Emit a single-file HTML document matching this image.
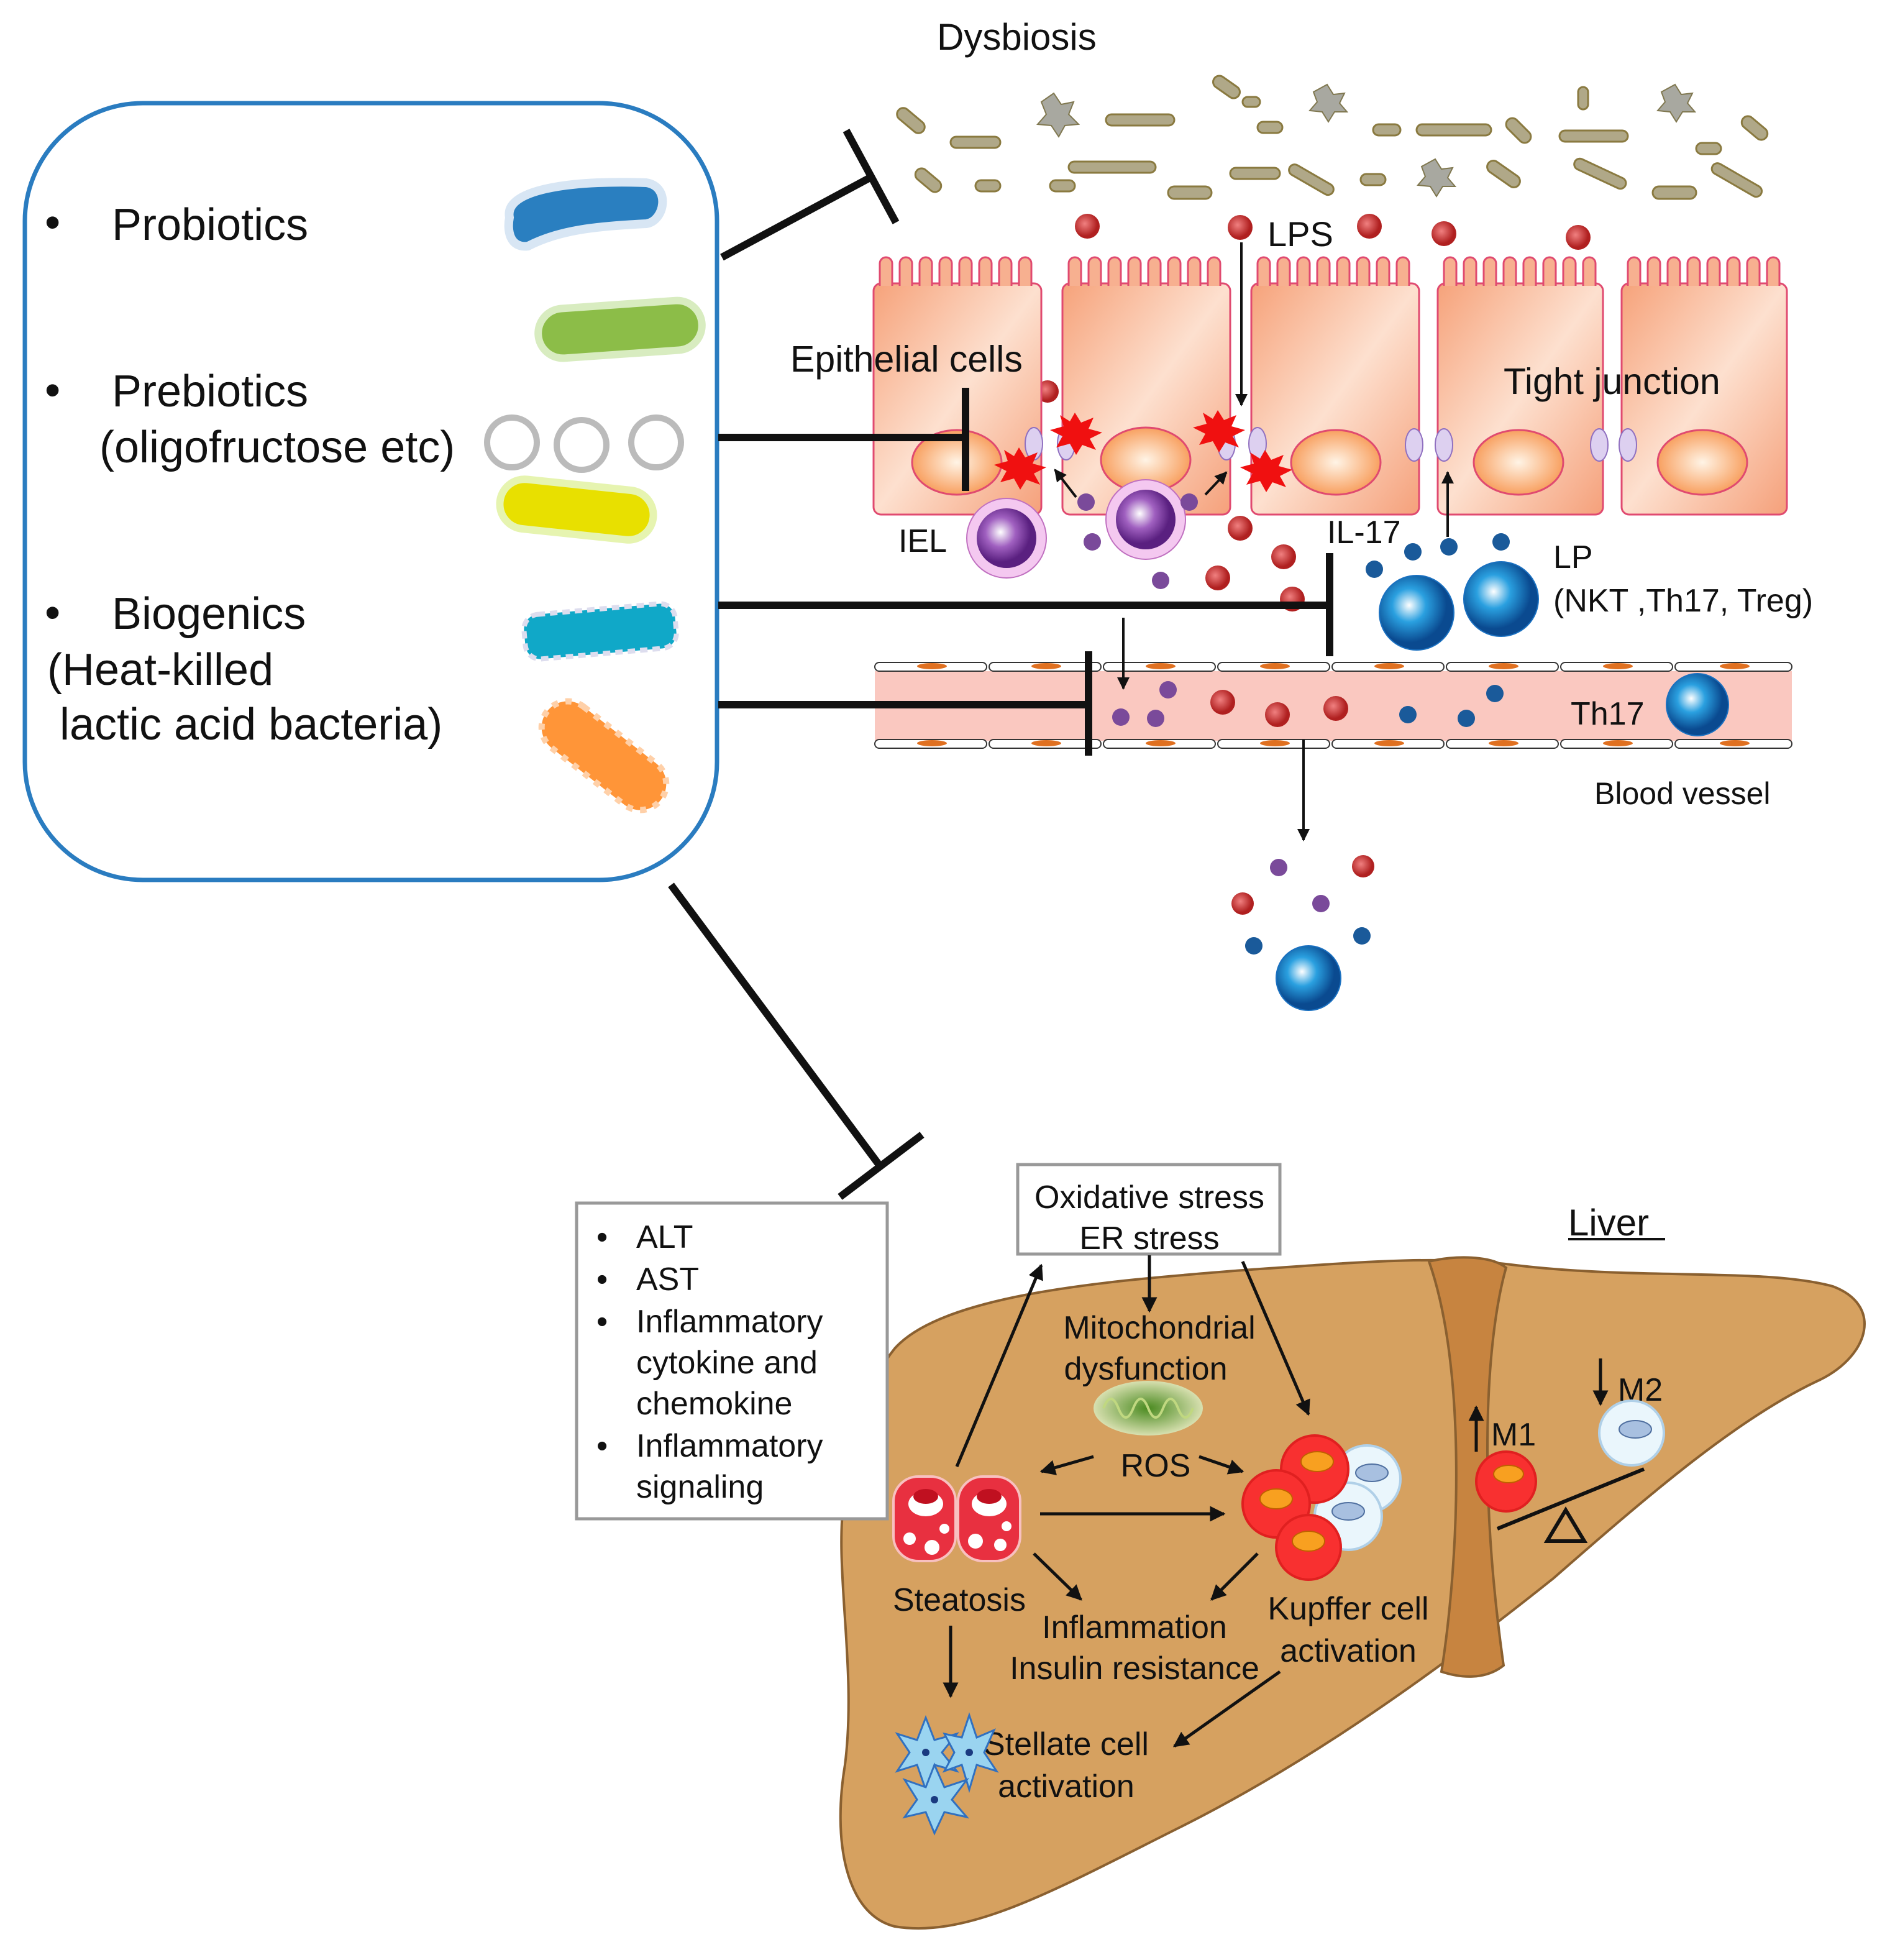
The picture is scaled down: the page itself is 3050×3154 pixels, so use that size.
<!DOCTYPE html>
<html><head><meta charset="utf-8"><style>html,body{margin:0;padding:0;background:#fff}svg{display:block}text{font-family:"Liberation Sans",Arial,sans-serif;fill:#111}</style></head>
<body>
<svg width="3050" height="3154" viewBox="0 0 1525 1577" xmlns="http://www.w3.org/2000/svg">
<defs>
<linearGradient id="epi" x1="0" y1="0" x2="1" y2="1"><stop offset="0" stop-color="#f6a27a"/><stop offset="0.5" stop-color="#fde0cf"/><stop offset="1" stop-color="#f5a07a"/></linearGradient>
<radialGradient id="nuc"><stop offset="0" stop-color="#fff4e6"/><stop offset="1" stop-color="#f8a060"/></radialGradient>
<radialGradient id="pur" cx="0.4" cy="0.4"><stop offset="0" stop-color="#fff"/><stop offset="0.5" stop-color="#a060c0"/><stop offset="1" stop-color="#5a2080"/></radialGradient>
<radialGradient id="blu" cx="0.4" cy="0.4"><stop offset="0" stop-color="#fff"/><stop offset="0.45" stop-color="#2aa0e0"/><stop offset="1" stop-color="#0a4a90"/></radialGradient>
<radialGradient id="red" cx="0.4" cy="0.4"><stop offset="0" stop-color="#f08080"/><stop offset="1" stop-color="#b02020"/></radialGradient>
<radialGradient id="mito"><stop offset="0" stop-color="#4a8a20"/><stop offset="1" stop-color="#d8e0b0"/></radialGradient>
<marker id="ar" viewBox="0 0 10 10" refX="9" refY="5" markerWidth="5" markerHeight="5" orient="auto"><path d="M0,0L10,5L0,10z" fill="#111"/></marker>
</defs>

<text x="754" y="40" font-size="30">Dysbiosis</text>

<g fill="#b0a888" stroke="#8a7a40" stroke-width="1.5">
<rect x="720" y="92" width="26" height="10" rx="5" transform="rotate(40 733 97)"/>
<rect x="765" y="110" width="40" height="9" rx="4.5"/>
<rect x="890" y="92" width="55" height="9" rx="4.5"/>
<rect x="975" y="65" width="24" height="10" rx="5" transform="rotate(35 987 70)"/>
<rect x="1012" y="98" width="20" height="9" rx="4.5"/>
<rect x="1105" y="100" width="22" height="9" rx="4.5"/>
<rect x="1140" y="100" width="60" height="9" rx="4.5"/>
<rect x="1210" y="100" width="24" height="10" rx="5" transform="rotate(45 1222 105)"/>
<rect x="1255" y="105" width="55" height="9" rx="4.5"/>
<rect x="1270" y="70" width="8" height="18" rx="4"/>
<rect x="1400" y="98" width="24" height="10" rx="5" transform="rotate(40 1412 103)"/>
<rect x="1365" y="115" width="20" height="9" rx="4.5"/>
<rect x="735" y="140" width="24" height="10" rx="5" transform="rotate(40 747 145)"/>
<rect x="785" y="145" width="20" height="9" rx="4.5"/>
<rect x="845" y="145" width="20" height="9" rx="4.5"/>
<rect x="860" y="130" width="70" height="9" rx="4.5"/>
<rect x="940" y="150" width="35" height="10" rx="5"/>
<rect x="990" y="135" width="40" height="9" rx="4.5"/>
<rect x="1035" y="140" width="40" height="9" rx="4.5" transform="rotate(30 1055 145)"/>
<rect x="1095" y="140" width="20" height="9" rx="4.5"/>
<rect x="1195" y="135" width="30" height="10" rx="5" transform="rotate(35 1210 140)"/>
<rect x="1265" y="135" width="45" height="9" rx="4.5" transform="rotate(25 1287 140)"/>
<rect x="1330" y="150" width="35" height="10" rx="5"/>
<rect x="1375" y="140" width="45" height="9" rx="4.5" transform="rotate(30 1397 145)"/>
<rect x="1000" y="78" width="14" height="8" rx="4"/>
</g>
<g fill="#a8a8a0" stroke="#807850" stroke-width="1">
<polygon points="848,75 854,84 864,82 860,92 868,100 857,101 852,110 846,101 835,100 842,92 838,82"/>
<polygon points="1068,68 1073,76 1082,75 1078,83 1084,90 1074,90 1069,98 1064,90 1054,89 1060,82 1057,74"/>
<polygon points="1155,128 1160,136 1169,135 1165,143 1171,150 1161,150 1156,158 1151,150 1141,149 1147,142 1144,134"/>
<polygon points="1348,68 1353,76 1362,75 1358,83 1364,90 1354,90 1349,98 1344,90 1334,89 1340,82 1337,74"/>
</g>

<g fill="url(#red)">
<circle cx="875" cy="182" r="10"/><circle cx="998" cy="183" r="10"/><circle cx="1102" cy="182" r="10"/><circle cx="1162" cy="188" r="10"/><circle cx="1270" cy="191" r="10"/>
<circle cx="843" cy="315" r="9"/><circle cx="998" cy="425" r="10"/><circle cx="1033" cy="448" r="10"/><circle cx="980" cy="465" r="10"/><circle cx="1040" cy="482" r="10"/>
<circle cx="984" cy="565" r="10"/><circle cx="1028" cy="575" r="10"/><circle cx="1075" cy="570" r="10"/>
<circle cx="1097" cy="697" r="9"/><circle cx="1000" cy="727" r="9"/>
</g>
<text x="1020" y="198" font-size="28">LPS</text>

<g stroke="#e04a70" stroke-width="1.5" fill="url(#epi)">
<rect x="703" y="228" width="135" height="186" rx="6"/>
<rect x="855" y="228" width="135" height="186" rx="6"/>
<rect x="1007" y="228" width="135" height="186" rx="6"/>
<rect x="1157" y="228" width="133" height="186" rx="6"/>
<rect x="1305" y="228" width="133" height="186" rx="6"/>
</g>
<g stroke="#e04a70" stroke-width="1.5" fill="#f7b090">
<path d="M708,230v-18a5,5 0 0 1 10,0v18 M724,230v-18a5,5 0 0 1 10,0v18 M740,230v-18a5,5 0 0 1 10,0v18 M756,230v-18a5,5 0 0 1 10,0v18 M772,230v-18a5,5 0 0 1 10,0v18 M788,230v-18a5,5 0 0 1 10,0v18 M804,230v-18a5,5 0 0 1 10,0v18 M820,230v-18a5,5 0 0 1 10,0v18"/>
<path transform="translate(152 0)" d="M708,230v-18a5,5 0 0 1 10,0v18 M724,230v-18a5,5 0 0 1 10,0v18 M740,230v-18a5,5 0 0 1 10,0v18 M756,230v-18a5,5 0 0 1 10,0v18 M772,230v-18a5,5 0 0 1 10,0v18 M788,230v-18a5,5 0 0 1 10,0v18 M804,230v-18a5,5 0 0 1 10,0v18 M820,230v-18a5,5 0 0 1 10,0v18"/>
<path transform="translate(304 0)" d="M708,230v-18a5,5 0 0 1 10,0v18 M724,230v-18a5,5 0 0 1 10,0v18 M740,230v-18a5,5 0 0 1 10,0v18 M756,230v-18a5,5 0 0 1 10,0v18 M772,230v-18a5,5 0 0 1 10,0v18 M788,230v-18a5,5 0 0 1 10,0v18 M804,230v-18a5,5 0 0 1 10,0v18 M820,230v-18a5,5 0 0 1 10,0v18"/>
<path transform="translate(454 0)" d="M708,230v-18a5,5 0 0 1 10,0v18 M724,230v-18a5,5 0 0 1 10,0v18 M740,230v-18a5,5 0 0 1 10,0v18 M756,230v-18a5,5 0 0 1 10,0v18 M772,230v-18a5,5 0 0 1 10,0v18 M788,230v-18a5,5 0 0 1 10,0v18 M804,230v-18a5,5 0 0 1 10,0v18 M820,230v-18a5,5 0 0 1 10,0v18"/>
<path transform="translate(602 0)" d="M708,230v-18a5,5 0 0 1 10,0v18 M724,230v-18a5,5 0 0 1 10,0v18 M740,230v-18a5,5 0 0 1 10,0v18 M756,230v-18a5,5 0 0 1 10,0v18 M772,230v-18a5,5 0 0 1 10,0v18 M788,230v-18a5,5 0 0 1 10,0v18 M804,230v-18a5,5 0 0 1 10,0v18 M820,230v-18a5,5 0 0 1 10,0v18"/>
</g>
<g fill="url(#nuc)" stroke="#e04a70" stroke-width="1.5">
<ellipse cx="770" cy="372" rx="36" ry="26"/><ellipse cx="922" cy="370" rx="36" ry="26"/><ellipse cx="1075" cy="372" rx="36" ry="26"/><ellipse cx="1222" cy="372" rx="36" ry="26"/><ellipse cx="1370" cy="372" rx="36" ry="26"/>
</g>
<g fill="#ddd0f0" stroke="#9070c0" stroke-width="1">
<ellipse cx="832" cy="357" rx="7" ry="13"/><ellipse cx="858" cy="357" rx="7" ry="13"/>
<ellipse cx="987" cy="357" rx="7" ry="13"/><ellipse cx="1012" cy="357" rx="7" ry="13"/>
<ellipse cx="1138" cy="358" rx="7" ry="13"/><ellipse cx="1162" cy="358" rx="7" ry="13"/>
<ellipse cx="1287" cy="358" rx="7" ry="13"/><ellipse cx="1310" cy="358" rx="7" ry="13"/>
</g>
<g fill="#f01010">
<polygon points="865,332 870,340 880,336 876,345 887,348 877,353 882,362 871,358 866,366 861,357 850,360 855,351 845,346 856,343 853,334 861,339"/>
<polygon points="820,360 825,368 835,364 831,373 842,376 832,381 837,390 826,386 821,394 816,385 805,388 810,379 800,374 811,371 808,362 816,367"/>
<polygon points="980,330 985,338 995,334 991,343 1002,346 992,351 997,360 986,356 981,364 976,355 965,358 970,349 960,344 971,341 968,332 976,337"/>
<polygon points="1018,362 1023,370 1033,366 1029,375 1040,378 1030,383 1035,392 1024,388 1019,396 1014,387 1003,390 1008,381 998,376 1009,373 1006,364 1014,369"/>
</g>
<text x="636" y="299" font-size="29.5">Epithelial cells</text>
<text x="1210" y="317" font-size="29.5">Tight junction</text>

<circle cx="810" cy="433" r="32" fill="#f4c8f0" stroke="#c070c0"/>
<circle cx="810" cy="433" r="24" fill="url(#pur)"/>
<circle cx="922" cy="418" r="32" fill="#f4c8f0" stroke="#c070c0"/>
<circle cx="922" cy="418" r="24" fill="url(#pur)"/>
<g fill="#7a4a9a"><circle cx="874" cy="404" r="7"/><circle cx="879" cy="436" r="7"/><circle cx="934" cy="467" r="7"/><circle cx="957" cy="404" r="7"/><circle cx="940" cy="555" r="7"/><circle cx="902" cy="577" r="7"/><circle cx="930" cy="578" r="7"/><circle cx="1029" cy="698" r="7"/><circle cx="1063" cy="727" r="7"/></g>
<text x="723" y="444" font-size="26">IEL</text>
<text x="1068" y="437" font-size="26">IL-17</text>
<g fill="#1a5a9a"><circle cx="1106" cy="458" r="7"/><circle cx="1137" cy="444" r="7"/><circle cx="1166" cy="440" r="7"/><circle cx="1208" cy="436" r="7"/><circle cx="1133" cy="575" r="7"/><circle cx="1180" cy="578" r="7"/><circle cx="1203" cy="558" r="7"/><circle cx="1009" cy="761" r="7"/><circle cx="1096" cy="753" r="7"/></g>
<circle cx="1140" cy="493" r="30" fill="url(#blu)" stroke="#1a70c0"/>
<circle cx="1208" cy="482" r="30" fill="url(#blu)" stroke="#1a70c0"/>
<text x="1250" y="457" font-size="26">LP</text>
<text x="1250" y="492" font-size="26">(NKT ,Th17, Treg)</text>

<rect x="704" y="540" width="738" height="56" fill="#fac8c0"/>
<g fill="#fff" stroke="#333" stroke-width="1">
<rect x="704" y="533" width="90" height="7" rx="3.5"/><rect x="796" y="533" width="90" height="7" rx="3.5"/><rect x="888" y="533" width="90" height="7" rx="3.5"/><rect x="980" y="533" width="90" height="7" rx="3.5"/><rect x="1072" y="533" width="90" height="7" rx="3.5"/><rect x="1164" y="533" width="90" height="7" rx="3.5"/><rect x="1256" y="533" width="90" height="7" rx="3.5"/><rect x="1348" y="533" width="94" height="7" rx="3.5"/>
<rect x="704" y="595" width="90" height="7" rx="3.5"/><rect x="796" y="595" width="90" height="7" rx="3.5"/><rect x="888" y="595" width="90" height="7" rx="3.5"/><rect x="980" y="595" width="90" height="7" rx="3.5"/><rect x="1072" y="595" width="90" height="7" rx="3.5"/><rect x="1164" y="595" width="90" height="7" rx="3.5"/><rect x="1256" y="595" width="90" height="7" rx="3.5"/><rect x="1348" y="595" width="94" height="7" rx="3.5"/>
</g>
<g fill="#e07020"><ellipse cx="750" cy="536" rx="12" ry="2.5"/><ellipse cx="842" cy="536" rx="12" ry="2.5"/><ellipse cx="934" cy="536" rx="12" ry="2.5"/><ellipse cx="1026" cy="536" rx="12" ry="2.5"/><ellipse cx="1118" cy="536" rx="12" ry="2.5"/><ellipse cx="1210" cy="536" rx="12" ry="2.5"/><ellipse cx="1302" cy="536" rx="12" ry="2.5"/><ellipse cx="1396" cy="536" rx="12" ry="2.5"/>
<ellipse cx="750" cy="598" rx="12" ry="2.5"/><ellipse cx="842" cy="598" rx="12" ry="2.5"/><ellipse cx="934" cy="598" rx="12" ry="2.5"/><ellipse cx="1026" cy="598" rx="12" ry="2.5"/><ellipse cx="1118" cy="598" rx="12" ry="2.5"/><ellipse cx="1210" cy="598" rx="12" ry="2.5"/><ellipse cx="1302" cy="598" rx="12" ry="2.5"/><ellipse cx="1396" cy="598" rx="12" ry="2.5"/></g>
<g fill="#7a4a9a"><circle cx="940" cy="555" r="7"/><circle cx="902" cy="577" r="7"/><circle cx="930" cy="578" r="7"/></g>
<g fill="url(#red)"><circle cx="984" cy="565" r="10"/><circle cx="1028" cy="575" r="10"/><circle cx="1075" cy="570" r="10"/></g>
<g fill="#1a5a9a"><circle cx="1133" cy="575" r="7"/><circle cx="1180" cy="578" r="7"/><circle cx="1203" cy="558" r="7"/></g>
<text x="1264" y="583" font-size="26">Th17</text>
<circle cx="1366" cy="567" r="25" fill="url(#blu)" stroke="#1a70c0"/>
<text x="1283" y="647" font-size="25">Blood vessel</text>
<circle cx="1053" cy="787" r="26" fill="url(#blu)" stroke="#1a70c0"/>

<g stroke="#111" stroke-width="2" fill="none" marker-end="url(#ar)">
<line x1="999" y1="195" x2="999" y2="326"/>
<line x1="866" y1="400" x2="849" y2="378"/>
<line x1="970" y1="398" x2="987" y2="380"/>
<line x1="1165" y1="432" x2="1165" y2="380"/>
<line x1="904" y1="497" x2="904" y2="554"/>
<line x1="1049" y1="595" x2="1049" y2="676"/>
</g>

<rect x="20" y="83" width="557" height="625" rx="95" fill="none" stroke="#2a7cc0" stroke-width="3.5"/>
<g font-size="36">
<text x="36" y="191">•</text><text x="90" y="193">Probiotics</text>
<text x="36" y="326">•</text><text x="90" y="327">Prebiotics</text>
<text x="80" y="372">(oligofructose etc)</text>
<text x="36" y="505">•</text><text x="90" y="506">Biogenics</text>
<text x="38" y="551">(Heat-killed</text>
<text x="48" y="595"> lactic acid bacteria)</text>
</g>
<path d="M410,175 C405,150 470,145 520,147 C540,150 535,178 520,180 C480,182 450,185 425,198 C410,200 408,185 410,175z" fill="#2a7fc0" stroke="#d8e6f4" stroke-width="7"/>
<rect x="433" y="245" width="132" height="40" rx="20" fill="#8cbd48" stroke="#d8ecc0" stroke-width="6" transform="rotate(-4 499 265)"/>
<g fill="none" stroke="#bbb" stroke-width="5"><circle cx="412" cy="356" r="20"/><circle cx="468" cy="358" r="20"/><circle cx="528" cy="356" r="20"/></g>
<rect x="402" y="390" width="124" height="40" rx="20" fill="#e8e000" stroke="#e6f4b0" stroke-width="6" transform="rotate(6 464 410)"/>
<rect x="422" y="490" width="122" height="36" rx="12" fill="#10a8c8" stroke="#dde" stroke-width="4" stroke-dasharray="6 4" transform="rotate(-5 483 508)"/>
<rect x="428" y="587" width="116" height="42" rx="21" fill="#ff9538" stroke="#ffd0a8" stroke-width="5" stroke-dasharray="5 6" transform="rotate(38 486 608)"/>

<g stroke="#111" stroke-width="6" fill="none">
<line x1="581" y1="207" x2="702" y2="142"/><line x1="681" y1="105" x2="721" y2="179"/>
<line x1="578" y1="352" x2="777" y2="352"/><line x1="777" y1="312" x2="777" y2="395"/>
<line x1="578" y1="487" x2="1070" y2="487"/><line x1="1070" y1="445" x2="1070" y2="528"/>
<line x1="578" y1="567" x2="876" y2="567"/><line x1="876" y1="524" x2="876" y2="608"/>
<line x1="540" y1="712" x2="708" y2="938"/><line x1="676" y1="963" x2="742" y2="913"/>
</g>

<path d="M720,1085 C760,1040 900,1030 1000,1022 C1100,1015 1160,1010 1220,1018 C1320,1030 1420,1020 1475,1035 C1515,1050 1505,1090 1465,1110 C1400,1140 1330,1200 1250,1270 C1150,1350 1050,1420 950,1470 C850,1520 780,1560 720,1550 C680,1540 670,1480 680,1420 C690,1340 670,1260 680,1200 C690,1140 700,1110 720,1085z" fill="#d6a160" stroke="#8a6030" stroke-width="2"/>
<path d="M1150,1015 C1170,1010 1200,1010 1212,1020 C1195,1080 1190,1200 1210,1340 C1195,1352 1175,1350 1160,1345 C1175,1250 1180,1100 1150,1015z" fill="#c78440" stroke="#8a6030" stroke-width="2"/>
<text x="1262" y="994" font-size="30">Liver</text>
<line x1="1262" y1="997" x2="1340" y2="997" stroke="#111" stroke-width="2"/>

<rect x="464" y="968" width="250" height="254" fill="#fff" stroke="#999" stroke-width="2.5"/>
<g font-size="26">
<text x="480" y="1004">•</text><text x="512" y="1004">ALT</text>
<text x="480" y="1038">•</text><text x="512" y="1038">AST</text>
<text x="480" y="1072">•</text><text x="512" y="1072">Inflammatory</text>
<text x="512" y="1105">cytokine and</text>
<text x="512" y="1138">chemokine</text>
<text x="480" y="1172">•</text><text x="512" y="1172">Inflammatory</text>
<text x="512" y="1205">signaling</text>
</g>
<rect x="819" y="937" width="211" height="72" fill="#fff" stroke="#999" stroke-width="2.5"/>
<text x="925" y="972" font-size="26" text-anchor="middle">Oxidative stress</text>
<text x="925" y="1005" font-size="26" text-anchor="middle">ER stress</text>

<g font-size="26" text-anchor="middle">
<text x="933" y="1077">Mitochondrial</text>
<text x="922" y="1110">dysfunction</text>
<text x="930" y="1188">ROS</text>
<text x="772" y="1296">Steatosis</text>
<text x="913" y="1318">Inflammation</text>
<text x="913" y="1351">Insulin resistance</text>
<text x="1085" y="1303">Kupffer cell</text>
<text x="1085" y="1337">activation</text>
<text x="858" y="1412">Stellate cell</text>
<text x="858" y="1446">activation</text>
<text x="1218" y="1163">M1</text>
<text x="1320" y="1127">M2</text>
</g>
<ellipse cx="924" cy="1133" rx="44" ry="22" fill="url(#mito)"/>
<path d="M888,1133 q6,-15 12,0 q6,15 12,0 q6,-15 12,0 q6,15 12,0 q6,-15 12,0 q6,15 12,0" stroke="#c0d880" stroke-width="2" fill="none"/>

<g stroke="#111" stroke-width="2.5" fill="none" marker-end="url(#ar)">
<line x1="770" y1="1180" x2="838" y2="1018"/>
<line x1="925" y1="1010" x2="925" y2="1055"/>
<line x1="1000" y1="1015" x2="1053" y2="1138"/>
<line x1="880" y1="1172" x2="838" y2="1184"/>
<line x1="965" y1="1172" x2="1000" y2="1184"/>
<line x1="837" y1="1218" x2="985" y2="1218"/>
<line x1="832" y1="1250" x2="870" y2="1287"/>
<line x1="1012" y1="1250" x2="975" y2="1287"/>
<line x1="765" y1="1308" x2="765" y2="1365"/>
<line x1="1030" y1="1345" x2="945" y2="1405"/>
<line x1="1188" y1="1168" x2="1188" y2="1132"/>
<line x1="1288" y1="1093" x2="1288" y2="1130"/>
</g>

<g>
<rect x="719" y="1188" width="50" height="68" rx="20" fill="#e83040" stroke="#f8c0c0" stroke-width="2"/>
<rect x="771" y="1188" width="50" height="68" rx="20" fill="#e83040" stroke="#f8c0c0" stroke-width="2"/>
<g fill="#fff"><ellipse cx="745" cy="1210" rx="14" ry="10"/><ellipse cx="796" cy="1210" rx="14" ry="10"/><circle cx="732" cy="1238" r="5"/><circle cx="750" cy="1245" r="6"/><circle cx="760" cy="1230" r="4"/><circle cx="785" cy="1240" r="6"/><circle cx="805" cy="1243" r="5"/><circle cx="810" cy="1228" r="4"/></g>
<ellipse cx="745" cy="1204" rx="10" ry="6" fill="#c01020"/><ellipse cx="796" cy="1204" rx="10" ry="6" fill="#c01020"/>
</g>
<g stroke="#e02020" stroke-width="2" fill="#fff">
<circle cx="1100" cy="1190" r="27" fill="#eaf6fc" stroke="#b0d0e8"/>
<circle cx="1085" cy="1220" r="27" fill="#eaf6fc" stroke="#b0d0e8"/>
<circle cx="1058" cy="1182" r="27" fill="#f83030"/>
<circle cx="1027" cy="1210" r="27" fill="#f83030"/>
<circle cx="1053" cy="1245" r="26" fill="#f83030"/>
<circle cx="1212" cy="1192" r="24" fill="#f83030"/>
<circle cx="1313" cy="1153" r="26" fill="#eaf6fc" stroke="#b0d0e8"/>
</g>
<g fill="#f8a020" stroke="#c06000"><ellipse cx="1060" cy="1176" rx="13" ry="8"/><ellipse cx="1027" cy="1206" rx="13" ry="8"/><ellipse cx="1053" cy="1240" rx="13" ry="8"/><ellipse cx="1214" cy="1186" rx="12" ry="7"/></g>
<g fill="#a8c0e0" stroke="#5070a0"><ellipse cx="1104" cy="1185" rx="13" ry="7"/><ellipse cx="1085" cy="1216" rx="13" ry="7"/><ellipse cx="1316" cy="1150" rx="13" ry="7"/></g>
<line x1="1205" y1="1230" x2="1323" y2="1182" stroke="#111" stroke-width="3"/>
<polygon points="1260,1215 1245,1240 1275,1240" fill="none" stroke="#111" stroke-width="3"/>
<g stroke="#3070c0" stroke-width="1.5" fill="#9ad4f0">
<polygon points="745,1382 752,1400 770,1395 758,1410 770,1425 752,1420 745,1440 738,1420 722,1425 732,1410 722,1395 738,1400"/>
<polygon points="780,1380 786,1398 800,1392 792,1410 802,1425 786,1420 780,1440 774,1420 760,1425 768,1410 760,1395 774,1398"/>
<polygon points="752,1420 760,1438 778,1432 766,1448 778,1462 760,1458 752,1475 745,1458 728,1462 738,1448 728,1432 745,1438"/>
</g>
<g fill="#1a3a80"><circle cx="745" cy="1410" r="3"/><circle cx="780" cy="1410" r="3"/><circle cx="752" cy="1448" r="3"/></g>
</svg>
</body></html>
